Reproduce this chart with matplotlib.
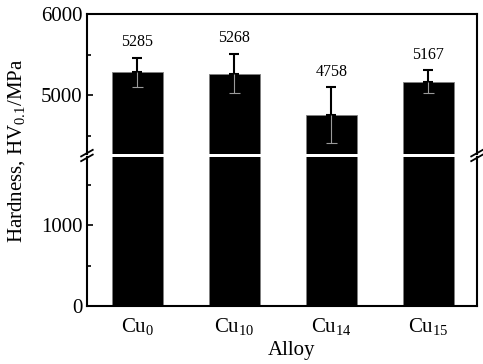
import matplotlib.pyplot as plt
import numpy as np

alloys = ["Cu$_0$", "Cu$_{10}$", "Cu$_{14}$", "Cu$_{15}$"]
hardness = [5285, 5268, 4758, 5167]
errors = [180, 244, 342, 140]
labels = ["5285", "5268", "4758", "5167"]

plt.rcParams['font.family'] = ['Liberation Serif', 'DejaVu Serif']
plt.rcParams['mathtext.fontset'] = 'custom'
plt.rcParams['mathtext.rm'] = 'Liberation Serif'
plt.rcParams['mathtext.it'] = 'Liberation Serif:italic'

fig = plt.figure(figsize=(4.83, 3.64), dpi=100)
ax_top = fig.add_axes([0.180, 0.577, 0.8076, 0.3845])
ax_bot = fig.add_axes([0.180, 0.1593, 0.8076, 0.4094])

x = np.arange(len(alloys))
w = 0.53

for ax in (ax_top, ax_bot):
    ax.bar(x, hardness, width=w, color='black', edgecolor='#808080', linewidth=0.6)
    for s in ax.spines.values():
        s.set_linewidth(1.5)
    ax.set_xlim(-0.52, 3.5)
    ax.tick_params(axis='y', direction='in', length=4, width=1.2, labelsize=15, pad=3)
    ax.tick_params(axis='y', which='minor', direction='in', length=3, width=1.2)
    ax.tick_params(axis='x', length=0)

# error bars: upper half black, lower half grey inside the bar
ax_top.errorbar(x, hardness, yerr=[np.zeros(4), errors], fmt='none', ecolor='black',
                elinewidth=1.5, capsize=3.5, capthick=1.5)
lows = np.array(hardness) - np.array(errors)
ax_top.vlines(x, lows, hardness, color='#9a9a9a', linewidth=0.8)
ax_top.hlines(lows, x - 0.06, x + 0.06, color='#9a9a9a', linewidth=0.8)

for xi, h, e, t in zip(x, hardness, errors, labels):
    ax_top.annotate(t, (xi, h + e), xytext=(0, 5.5), textcoords='offset points',
                    ha='center', va='bottom', fontsize=11.5)

ax_top.set_ylim(4280, 6000)
ax_top.set_yticks([5000, 6000])
ax_top.set_yticks([4500, 5500], minor=True)
ax_top.set_xticks([])
ax_top.spines['bottom'].set_visible(False)

ax_bot.set_ylim(0, 1840)
ax_bot.set_yticks([0, 1000])
ax_bot.set_yticks([500, 1500], minor=True)
ax_bot.spines['top'].set_visible(False)
ax_bot.set_xticks(x)
ax_bot.set_xticklabels(alloys, fontsize=15)
ax_bot.tick_params(axis='x', pad=7)

fig.text(292 / 483, 1 - 351 / 364, "Alloy", ha='center', va='center', fontsize=15)
fig.text(17 / 483, 1 - 151 / 364, "Hardness, HV$_{0.1}$/MPa", rotation=90, ha='center',
         va='center', fontsize=15)

# break marks on both sides
yb = 1 - 155.5 / 364
for xf in (0.180, 0.9876):
    for dy in (0.0065, -0.0065):
        fig.add_artist(plt.Line2D([xf - 0.012, xf + 0.012], [yb + dy - 0.009, yb + dy + 0.009],
                                  color='black', linewidth=1.3, transform=fig.transFigure))

fig.savefig("out.png", dpi=100)
